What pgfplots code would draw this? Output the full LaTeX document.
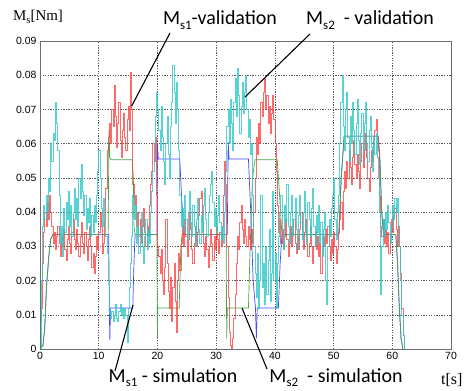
\documentclass[border=0pt]{standalone}
\usepackage{pgfplots}
\pgfplotsset{compat=1.18}
\usepackage{fontspec}
\setmainfont{Liberation Serif}
\newfontfamily\arialf{Liberation Sans}
\newfontfamily\calib{Carlito}
\definecolor{cred}{RGB}{255,55,55}
\definecolor{ccyan}{RGB}{45,200,200}
\definecolor{cgreen}{RGB}{70,165,70}
\definecolor{cblue}{RGB}{70,70,255}
\definecolor{cframe}{RGB}{110,110,110}
\newcommand{\sub}[1]{\raisebox{-0.22em}{\fontsize{13}{13}\selectfont #1}}
\begin{document}
\begin{tikzpicture}
\useasboundingbox (-40bp,-42bp) rectangle (432bp,349bp);
\begin{axis}[
  at={(0,0)}, anchor=south west, scale only axis,
  width=411bp, height=308bp,
  xmin=0, xmax=70, ymin=0, ymax=0.09,
  xtick={0,10,20,30,40,50,60,70},
  ytick={0,0.01,0.02,0.03,0.04,0.05,0.06,0.07,0.08,0.09},
  scaled y ticks=false,
  yticklabel style={/pgf/number format/fixed,/pgf/number format/precision=2},
  /pgf/number format/assume math mode=true,
  ticklabel style={font=\arialf\fontsize{10.5}{12}\selectfont, text=black},
  grid=major,
  major grid style={draw=black!65, line width=0.5pt, dash pattern=on 1.3pt off 1.3pt},
  axis line style={draw=cframe, line width=0.8pt},
  tick style={draw=cframe},
  major tick length=0pt,
  clip=true,
]
% Ms2 simulation (blue)
\addplot[cblue, line width=0.7pt, sharp plot] coordinates {
(0,0)(0.5,0.001)(0.8,0.006)(1.1,0.018)(1.5,0.027)(1.8,0.032)(2.2,0.0335)(11.7,0.0335)(11.8,0.012)(11.9,0.0025)(12.0,0.012)(15.8,0.012)(16.0,0.025)(16.2,0.0335)(19.9,0.0335)(20.0,0.06)(20.15,0.0555)(23.8,0.0555)(24.1,0.045)(24.5,0.0335)(31.9,0.0335)(32.05,0.0605)(32.2,0.0555)(35.5,0.0555)(35.9,0.04)(36.3,0.02)(36.7,0.012)(36.85,0.003)(37.0,0.012)(40.6,0.012)(40.9,0.025)(41.2,0.0335)(50.9,0.0335)(51.3,0.05)(51.8,0.0622)(57.6,0.0622)(57.9,0.055)(58.2,0.04)(58.5,0.0335)(60.6,0.0335)(60.9,0.025)(61.2,0.012)(61.5,0.003)(61.8,0)
};
% Ms1 simulation (green)
\addplot[cgreen, line width=0.7pt, sharp plot] coordinates {
(0,0)(0.5,0.001)(0.8,0.006)(1.1,0.018)(1.5,0.027)(1.8,0.032)(2.2,0.0335)(11.6,0.0335)(11.75,0.064)(11.9,0.056)(12.1,0.0553)(15.7,0.0553)(15.9,0.05)(16.0,0.036)(16.2,0.0335)(19.9,0.0335)(20.0,0.003)(20.05,0.012)(23.7,0.012)(24.0,0.03)(24.2,0.0335)(31.7,0.0335)(31.8,0.003)(31.9,0.012)(35.5,0.012)(35.8,0.03)(36.2,0.05)(36.6,0.0553)(40.4,0.0553)(40.8,0.045)(41.2,0.0335)(50.9,0.0335)(51.3,0.05)(51.8,0.0622)(57.6,0.0622)(57.9,0.055)(58.2,0.04)(58.5,0.0335)(60.6,0.0335)(60.9,0.025)(61.2,0.012)(61.5,0.003)(61.8,0)
};
% Ms1 validation (red)
\addplot[cred, line width=0.55pt, opacity=0.75, const plot] coordinates {
(0,0.008)(0.2,0.012)(0.4,0.025)(0.6,0.034)(0.8,0.04)(1,0.036)(1.2,0.043)(1.4,0.038)(1.6,0.045)(1.8,0.04)(2,0.036)(2.2,0.031)(2.4,0.034)(2.6,0.029)(2.8,0.033)(3,0.036)(3.2,0.031)(3.4,0.027)(3.6,0.033)(3.8,0.03)(4,0.035)(4.2,0.029)(4.4,0.026)(4.6,0.032)(4.8,0.036)(5,0.031)(5.2,0.028)(5.4,0.034)(5.6,0.038)(5.8,0.032)(6,0.029)(6.2,0.035)(6.4,0.031)(6.6,0.027)(6.8,0.033)(7,0.037)(7.2,0.031)(7.4,0.028)(7.6,0.034)(7.8,0.03)(8,0.026)(8.2,0.032)(8.4,0.036)(8.6,0.03)(8.8,0.024)(9,0.028)(9.2,0.022)(9.4,0.027)(9.6,0.033)(9.8,0.029)(10,0.034)(10.2,0.04)(10.4,0.036)(10.6,0.028)(10.8,0.031)(11,0.038)(11.2,0.047)(11.4,0.058)(11.6,0.062)(11.8,0.066)(12,0.06)(12.2,0.07)(12.4,0.065)(12.6,0.077)(12.8,0.068)(13,0.059)(13.2,0.066)(13.4,0.072)(13.6,0.061)(13.8,0.056)(14,0.064)(14.2,0.069)(14.4,0.062)(14.6,0.058)(14.8,0.067)(15,0.071)(15.2,0.064)(15.4,0.081)(15.6,0.07)(15.8,0.048)(16,0.042)(16.2,0.045)(16.4,0.036)(16.6,0.04)(16.8,0.033)(17,0.038)(17.2,0.031)(17.4,0.036)(17.6,0.041)(17.8,0.034)(18,0.03)(18.2,0.036)(18.4,0.033)(18.6,0.042)(18.8,0.048)(19,0.052)(19.2,0.06)(19.4,0.055)(19.6,0.062)(19.8,0.045)(20,0.03)(20.2,0.027)(20.4,0.022)(20.6,0.029)(20.8,0.02)(21,0.016)(21.2,0.024)(21.4,0.038)(21.6,0.025)(21.8,0.017)(22,0.012)(22.2,0.021)(22.4,0.008)(22.6,0.018)(22.8,0.025)(23,0.014)(23.2,0.005)(23.4,0.02)(23.6,0.028)(23.8,0.023)(24,0.031)(24.2,0.036)(24.4,0.03)(24.6,0.038)(24.8,0.033)(25,0.027)(25.2,0.032)(25.4,0.04)(25.6,0.035)(25.8,0.029)(26,0.025)(26.2,0.031)(26.4,0.036)(26.6,0.03)(26.8,0.034)(27,0.039)(27.2,0.044)(27.4,0.046)(27.6,0.037)(27.8,0.031)(28,0.027)(28.2,0.033)(28.4,0.029)(28.6,0.024)(28.8,0.03)(29,0.035)(29.2,0.031)(29.4,0.026)(29.6,0.033)(29.8,0.029)(30,0.036)(30.2,0.032)(30.4,0.028)(30.6,0.034)(30.8,0.03)(31,0.036)(31.2,0.045)(31.4,0.055)(31.6,0.048)(31.8,0.03)(32,0.015)(32.2,0.005)(32.4,0.001)(32.6,0)(32.8,0.003)(33,0.009)(33.2,0.016)(33.4,0.025)(33.6,0.033)(33.8,0.029)(34,0.037)(34.2,0.042)(34.4,0.035)(34.6,0.031)(34.8,0.038)(35,0.033)(35.2,0.03)(35.4,0.036)(35.6,0.032)(35.8,0.029)(36,0.035)(36.2,0.031)(36.4,0.04)(36.6,0.05)(36.8,0.062)(37,0.057)(37.2,0.066)(37.4,0.06)(37.6,0.072)(37.8,0.068)(38,0.075)(38.2,0.079)(38.4,0.07)(38.6,0.074)(38.8,0.066)(39,0.071)(39.2,0.063)(39.4,0.069)(39.6,0.074)(39.8,0.067)(40,0.06)(40.2,0.052)(40.4,0.042)(40.6,0.034)(40.8,0.038)(41,0.031)(41.2,0.035)(41.4,0.029)(41.6,0.033)(41.8,0.038)(42,0.032)(42.2,0.027)(42.4,0.031)(42.6,0.036)(42.8,0.03)(43,0.034)(43.2,0.038)(43.4,0.031)(43.6,0.028)(43.8,0.033)(44,0.029)(44.2,0.035)(44.4,0.04)(44.6,0.033)(44.8,0.029)(45,0.034)(45.2,0.038)(45.4,0.032)(45.6,0.027)(45.8,0.031)(46,0.036)(46.2,0.03)(46.4,0.025)(46.6,0.03)(46.8,0.034)(47,0.029)(47.2,0.033)(47.4,0.027)(47.6,0.031)(47.8,0.022)(48,0.028)(48.2,0.033)(48.4,0.03)(48.6,0.035)(48.8,0.031)(49,0.036)(49.2,0.03)(49.4,0.026)(49.6,0.032)(49.8,0.028)(50,0.034)(50.2,0.03)(50.4,0.025)(50.6,0.029)(50.8,0.034)(51,0.038)(51.2,0.043)(51.4,0.035)(51.6,0.046)(51.8,0.052)(52,0.047)(52.2,0.055)(52.4,0.05)(52.6,0.058)(52.8,0.053)(53,0.048)(53.2,0.056)(53.4,0.061)(53.6,0.054)(53.8,0.05)(54,0.057)(54.2,0.052)(54.4,0.047)(54.6,0.055)(54.8,0.06)(55,0.053)(55.2,0.058)(55.4,0.063)(55.6,0.056)(55.8,0.05)(56,0.046)(56.2,0.053)(56.4,0.058)(56.6,0.055)(56.8,0.061)(57,0.064)(57.2,0.067)(57.4,0.062)(57.6,0.058)(57.8,0.045)(58,0.036)(58.2,0.033)(58.4,0.038)(58.6,0.031)(58.8,0.035)(59,0.03)(59.2,0.034)(59.4,0.028)(59.6,0.033)(59.8,0.038)(60,0.034)(60.2,0.039)(60.4,0.041)(60.6,0.035)(60.8,0.03)(61,0.036)(61.2,0.03)(61.4,0.022)(61.6,0.012)(61.8,0.004)(62,0)
};
% Ms2 validation (cyan)
\addplot[ccyan, line width=0.55pt, opacity=0.8, const plot] coordinates {
(0,0)(0.2,0.02)(0.4,0.036)(0.6,0.042)(0.8,0.038)(1,0.045)(1.2,0.04)(1.4,0.05)(1.6,0.046)(1.8,0.06)(2,0.055)(2.2,0.063)(2.4,0.061)(2.6,0.072)(2.8,0.066)(3,0.058)(3.2,0.045)(3.4,0.031)(3.6,0.036)(3.8,0.027)(4,0.041)(4.2,0.034)(4.4,0.043)(4.6,0.038)(4.8,0.046)(5,0.036)(5.2,0.042)(5.4,0.033)(5.6,0.04)(5.8,0.047)(6,0.038)(6.2,0.044)(6.4,0.036)(6.6,0.05)(6.8,0.044)(7,0.054)(7.2,0.046)(7.4,0.039)(7.6,0.045)(7.8,0.035)(8,0.041)(8.2,0.037)(8.4,0.044)(8.6,0.033)(8.8,0.039)(9,0.034)(9.2,0.042)(9.4,0.037)(9.6,0.045)(9.8,0.052)(10,0.058)(10.2,0.05)(10.4,0.041)(10.6,0.036)(10.8,0.044)(11,0.038)(11.2,0.033)(11.4,0.028)(11.6,0.02)(11.8,0.012)(12,0.009)(12.2,0.011)(12.4,0.008)(12.6,0.01)(12.8,0.013)(13,0.009)(13.2,0.008)(13.4,0.011)(13.6,0.013)(13.8,0.01)(14,0.012)(14.2,0.009)(14.4,0.012)(14.6,0.01)(14.8,0.002)(15,0.012)(15.2,0.018)(15.4,0.025)(15.6,0.033)(15.8,0.045)(16,0.038)(16.2,0.042)(16.4,0.031)(16.6,0.036)(16.8,0.028)(17,0.034)(17.2,0.04)(17.4,0.03)(17.6,0.025)(17.8,0.033)(18,0.038)(18.2,0.029)(18.4,0.035)(18.6,0.031)(18.8,0.04)(19,0.046)(19.2,0.052)(19.4,0.06)(19.6,0.068)(19.8,0.075)(20,0.07)(20.2,0.064)(20.4,0.058)(20.6,0.071)(20.8,0.062)(21,0.055)(21.2,0.048)(21.4,0.06)(21.6,0.068)(21.8,0.057)(22,0.05)(22.2,0.065)(22.4,0.072)(22.6,0.083)(22.8,0.075)(23,0.066)(23.2,0.078)(23.4,0.07)(23.6,0.058)(23.8,0.045)(24,0.036)(24.2,0.041)(24.4,0.034)(24.6,0.045)(24.8,0.038)(25,0.032)(25.2,0.04)(25.4,0.046)(25.6,0.037)(25.8,0.033)(26,0.042)(26.2,0.036)(26.4,0.03)(26.6,0.038)(26.8,0.044)(27,0.035)(27.2,0.031)(27.4,0.039)(27.6,0.034)(27.8,0.042)(28,0.047)(28.2,0.038)(28.4,0.033)(28.6,0.04)(28.8,0.045)(29,0.048)(29.2,0.052)(29.4,0.043)(29.6,0.036)(29.8,0.041)(30,0.034)(30.2,0.039)(30.4,0.045)(30.6,0.037)(30.8,0.032)(31,0.036)(31.2,0.031)(31.4,0.04)(31.6,0.052)(31.8,0.065)(32,0.07)(32.2,0.06)(32.4,0.073)(32.6,0.066)(32.8,0.058)(33,0.072)(33.2,0.079)(33.4,0.068)(33.6,0.082)(33.8,0.074)(34,0.063)(34.2,0.071)(34.4,0.078)(34.6,0.069)(34.8,0.075)(35,0.08)(35.2,0.07)(35.4,0.062)(35.6,0.067)(35.8,0.057)(36,0.06)(36.2,0.045)(36.4,0.03)(36.6,0.022)(36.8,0.015)(37,0.028)(37.2,0.012)(37.4,0.02)(37.6,0.045)(37.8,0.018)(38,0.025)(38.2,0.013)(38.4,0.03)(38.6,0.016)(38.8,0.026)(39,0.035)(39.2,0.014)(39.4,0.022)(39.6,0.046)(39.8,0.02)(40,0.028)(40.2,0.012)(40.4,0.025)(40.6,0.033)(40.8,0.04)(41,0.045)(41.2,0.035)(41.4,0.029)(41.6,0.042)(41.8,0.037)(42,0.048)(42.2,0.036)(42.4,0.031)(42.6,0.04)(42.8,0.045)(43,0.033)(43.2,0.038)(43.4,0.044)(43.6,0.035)(43.8,0.029)(44,0.039)(44.2,0.045)(44.4,0.037)(44.6,0.032)(44.8,0.04)(45,0.046)(45.2,0.036)(45.4,0.031)(45.6,0.043)(45.8,0.038)(46,0.033)(46.2,0.041)(46.4,0.047)(46.6,0.036)(46.8,0.03)(47,0.039)(47.2,0.034)(47.4,0.042)(47.6,0.031)(47.8,0.037)(48,0.027)(48.2,0.035)(48.4,0.04)(48.6,0.02)(48.8,0.013)(49,0.03)(49.2,0.038)(49.4,0.033)(49.6,0.041)(49.8,0.045)(50,0.05)(50.2,0.038)(50.4,0.032)(50.6,0.04)(50.8,0.045)(51,0.06)(51.2,0.072)(51.4,0.08)(51.6,0.065)(51.8,0.058)(52,0.07)(52.2,0.075)(52.4,0.062)(52.6,0.055)(52.8,0.068)(53,0.06)(53.2,0.072)(53.4,0.064)(53.6,0.057)(53.8,0.066)(54,0.073)(54.2,0.061)(54.4,0.054)(54.6,0.063)(54.8,0.069)(55,0.058)(55.2,0.066)(55.4,0.072)(55.6,0.06)(55.8,0.055)(56,0.064)(56.2,0.068)(56.4,0.059)(56.6,0.052)(56.8,0.062)(57,0.057)(57.2,0.063)(57.4,0.056)(57.6,0.05)(57.8,0.04)(58,0.016)(58.2,0.03)(58.4,0.038)(58.6,0.033)(58.8,0.04)(59,0.035)(59.2,0.042)(59.4,0.037)(59.6,0.031)(59.8,0.036)(60,0.042)(60.2,0.038)(60.4,0.044)(60.6,0.04)(60.8,0.044)(61,0.036)(61.2,0.03)(61.4,0.02)(61.6,0.01)(61.8,0.004)(62,0)
};
\end{axis}
% annotations
\draw[black, line width=1.1pt] (130bp,316bp) -- (91.7bp,243bp);
\draw[black, line width=1.1pt] (270bp,315bp) -- (205bp,252bp);
\draw[black, line width=1.1pt] (75bp,-22bp) -- (93bp,44bp);
\draw[black, line width=1.1pt] (227bp,-20bp) -- (202bp,41bp);
\node[anchor=base, inner sep=0pt] at (180bp,324bp) {\calib\fontsize{20}{24}\selectfont M\sub{s1}-validation};
\node[anchor=base, inner sep=0pt] at (330bp,324bp) {\calib\fontsize{20}{24}\selectfont M\sub{s2}\ \ - validation};
\node[anchor=base, inner sep=0pt] at (133bp,-33bp) {\calib\fontsize{20}{24}\selectfont M\sub{s1}\ - simulation};
\node[anchor=base, inner sep=0pt] at (296bp,-33bp) {\calib\fontsize{20}{24}\selectfont M\sub{s2}\ \ - simulation};
\node[anchor=base west, inner sep=0pt] at (-27bp,328bp) {\fontsize{15}{18}\selectfont M\raisebox{-0.2em}{\fontsize{10.5}{12}\selectfont s}[Nm]};
\node[anchor=base west, inner sep=0pt] at (401bp,-35bp) {\fontsize{16}{18}\selectfont t[s]};
\end{tikzpicture}
\end{document}
